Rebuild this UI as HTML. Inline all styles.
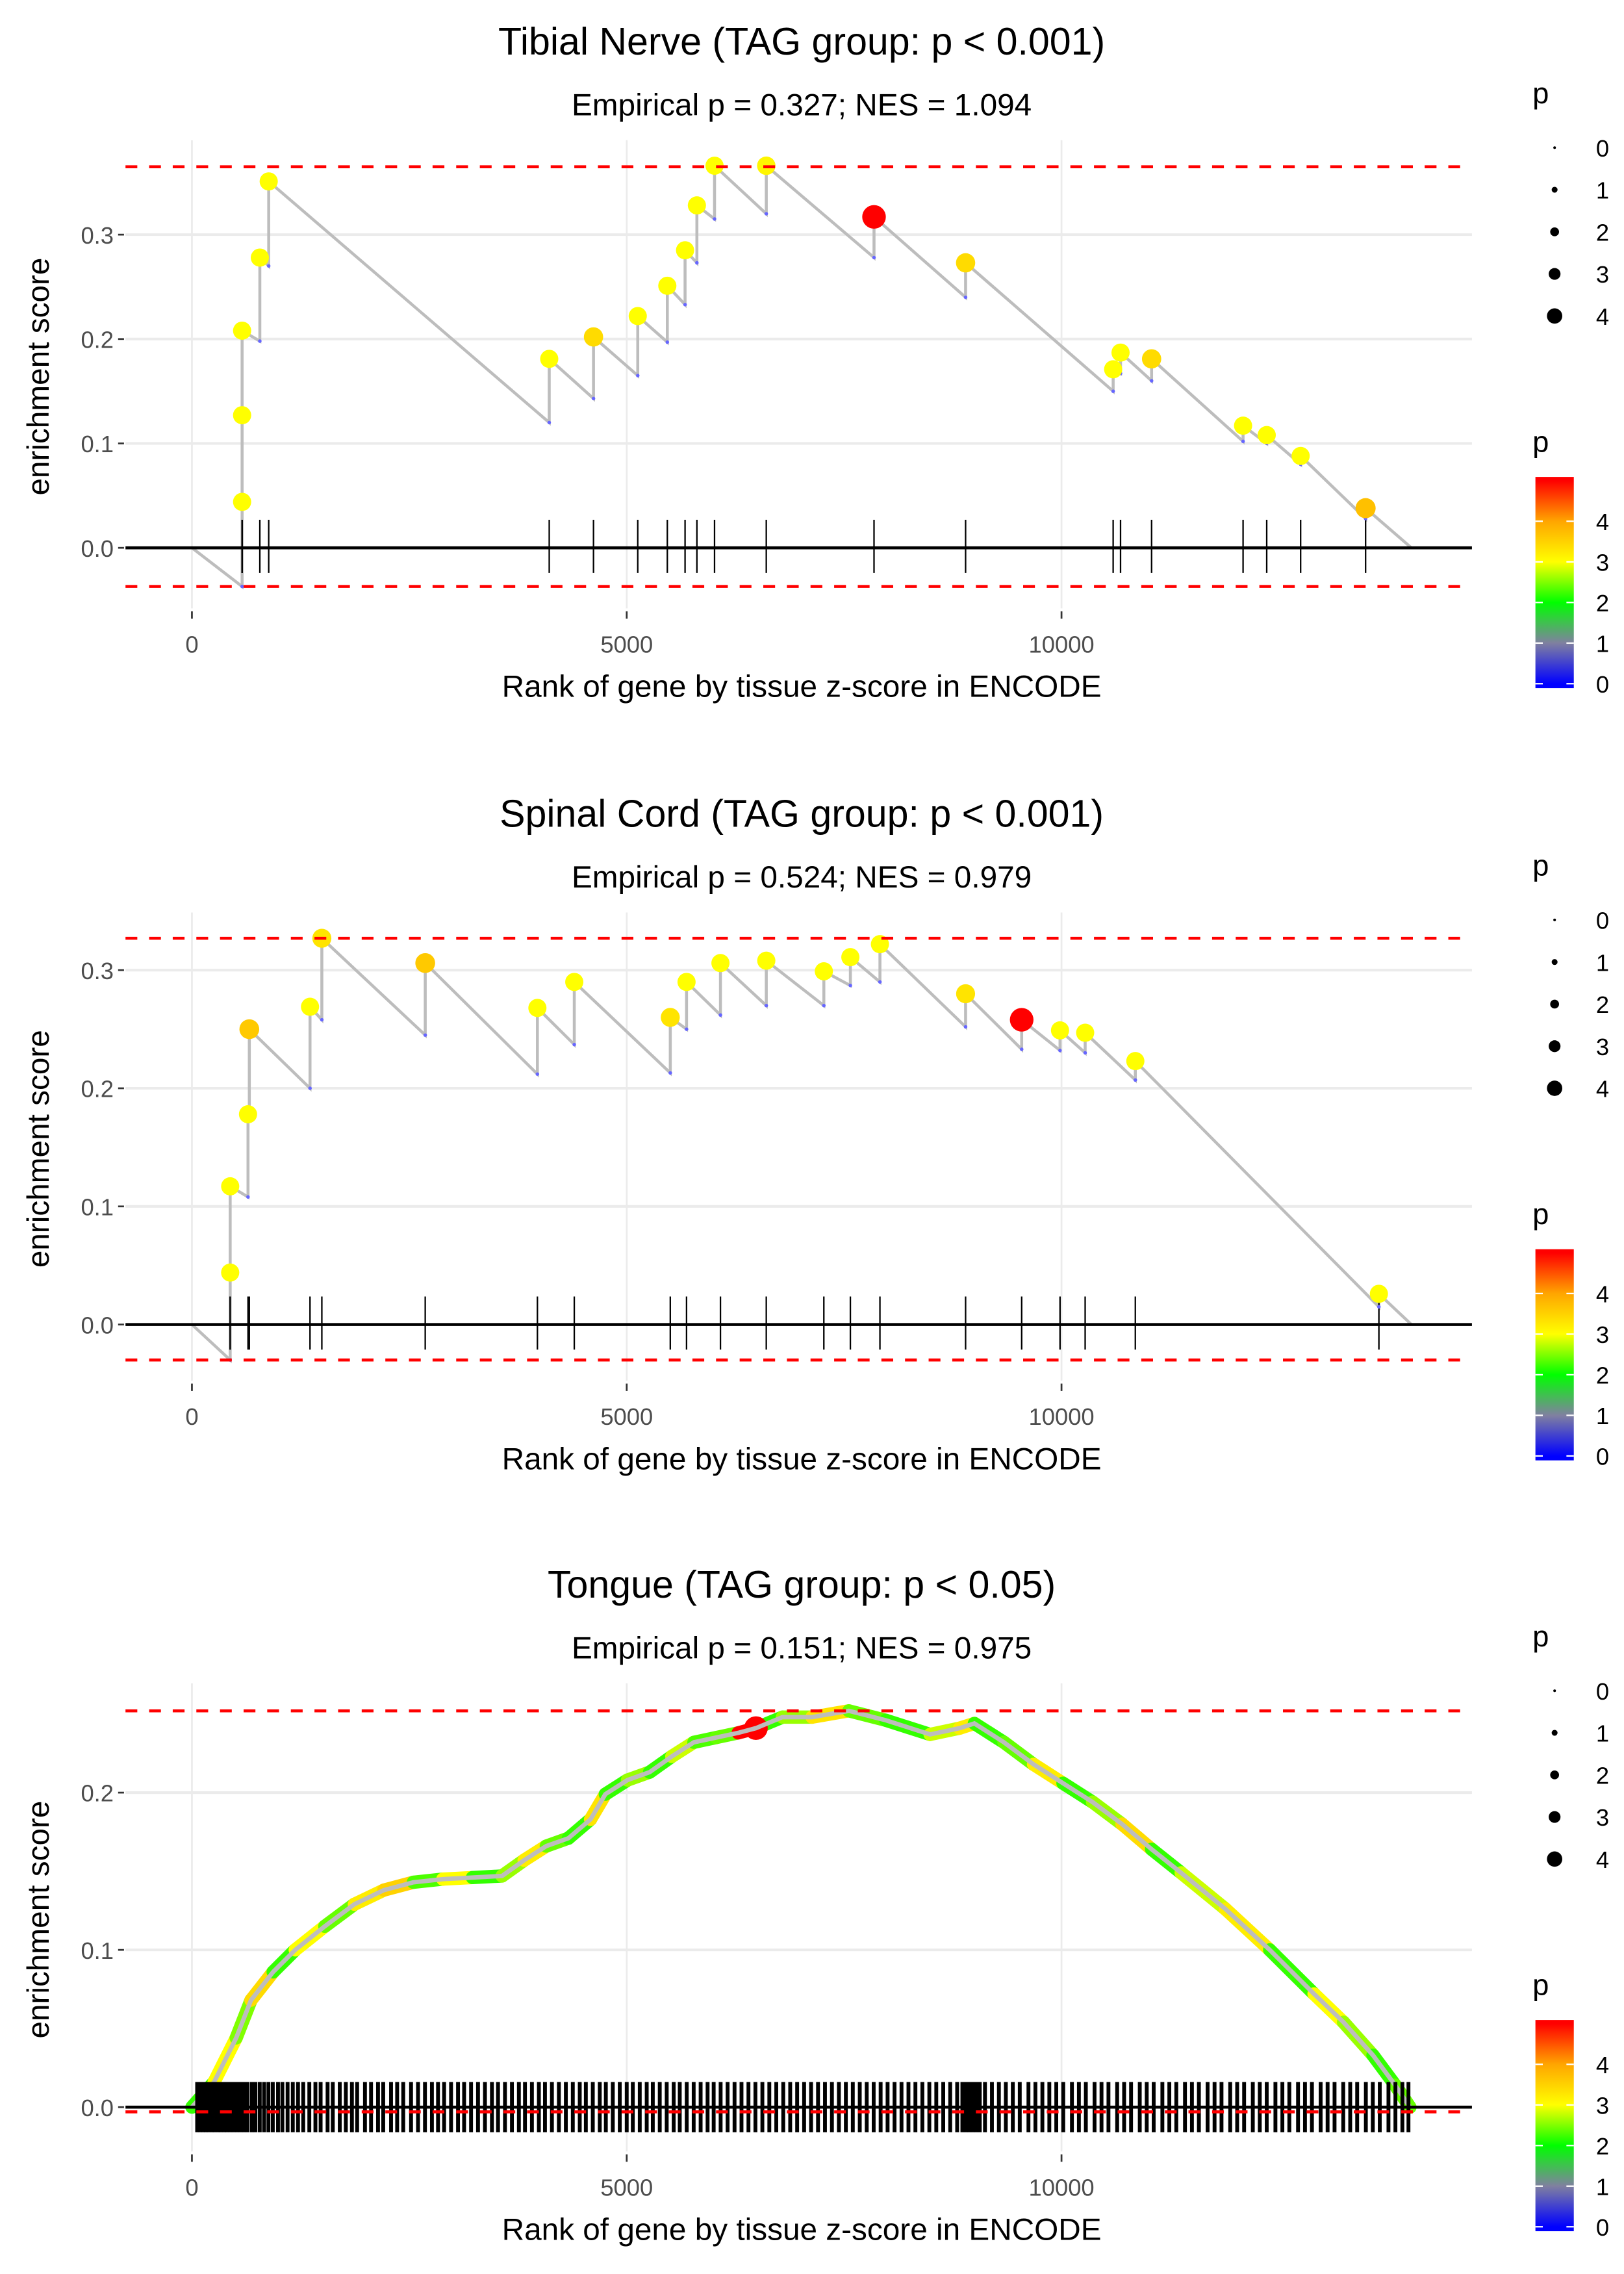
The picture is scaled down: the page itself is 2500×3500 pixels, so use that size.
<!DOCTYPE html>
<html><head><meta charset="utf-8"><style>
html,body{margin:0;padding:0;background:#fff;}
svg{display:block;font-family:"Liberation Sans",sans-serif;}
</style></head><body>
<svg id="chart" width="2500" height="3500" viewBox="0 0 1100 1540" xmlns="http://www.w3.org/2000/svg">
<rect x="0" y="0" width="1100" height="1540" fill="#fff"/>
</svg>
<script>
// ---- Panel 1: Tibial Nerve ----
const p1HitRanks = [577,577,577,781,883,4109,4618,5127,5467,5671,5807,6010,6605,7844,8897,10594,10679,11036,12088,12360,12750,13497];
const p1EsBefore = [-0.037,0.044,0.127,0.198,0.270,0.120,0.143,0.165,0.197,0.233,0.273,0.315,0.320,0.278,0.240,0.150,0.167,0.160,0.102,0.100,0.080,0.028];
const p1EsAfter  = [0.044,0.127,0.208,0.278,0.351,0.181,0.202,0.222,0.251,0.285,0.328,0.366,0.366,0.317,0.273,0.171,0.187,0.181,0.117,0.108,0.088,0.038];
const p1Pvals    = [3.0,3.0,3.0,3.0,3.0,3.0,3.4,3.0,3.0,3.0,3.0,3.0,3.1,5.0,3.4,3.0,3.0,3.4,3.0,3.0,3.0,3.7];
const p1Bounds = [0.365,-0.037];
// ---- Panel 2: Spinal Cord ----
const p2HitRanks = [440,440,645,660,1358,1494,2683,3973,4397,5501,5688,6078,6605,7267,7572,7912,8897,9542,9983,10272,10849,13650];
const p2EsBefore = [-0.030,0.044,0.108,0.178,0.200,0.258,0.245,0.212,0.237,0.213,0.250,0.262,0.270,0.270,0.287,0.290,0.252,0.233,0.232,0.230,0.207,0.015];
const p2EsAfter  = [0.044,0.117,0.178,0.250,0.269,0.327,0.306,0.268,0.290,0.260,0.290,0.306,0.308,0.299,0.311,0.322,0.280,0.258,0.249,0.247,0.223,0.026];
const p2Pvals    = [3.0,3.0,3.0,3.6,3.0,3.3,3.6,3.0,3.0,3.3,3.0,3.0,3.0,3.0,3.0,3.0,3.3,5.0,3.0,3.0,3.0,3.0];
const p2Bounds = [0.327,-0.030];
// ---- Panel 3: Tongue ----
const p3CurveRanks = [0,255,509,679,934,1188,1528,1868,2207,2547,2886,3226,3566,3820,4075,4329,4584,4754,5009,5263,5518,5773,6027,6282,6486,6791,7131,7555,7980,8489,8829,8998,9338,9678,10017,10357,10696,11036,11376,11885,12394,12904,13243,13582,13837,14007];
const p3CurveEs    = [0,0.016,0.044,0.068,0.086,0.100,0.115,0.129,0.138,0.143,0.145,0.146,0.147,0.157,0.166,0.171,0.183,0.199,0.208,0.213,0.223,0.232,0.235,0.238,0.241,0.248,0.248,0.252,0.246,0.237,0.241,0.244,0.232,0.218,0.206,0.194,0.180,0.164,0.149,0.126,0.100,0.072,0.054,0.033,0.014,0];
const p3CurvePvals = [2,2.2,3,2.5,3.4,2.2,3,2.4,3.2,3.5,2.3,3,2.2,2.6,3.2,2.4,2.2,3.3,2.2,2.6,2.2,2.8,2.3,2.4,5.0,2.2,2.6,3.3,2.4,2.2,2.8,3.2,2.2,2.4,3.2,2.2,2.6,3.4,2.2,2.8,3.2,2.2,3.0,2.6,2.2,2.4];
const p3HitRanks = [60,95,130,160,190,230,260,300,330,370,400,440,480,520,560,600,640,690,730,780,830,880,930,990,1040,1100,1160,1220,1280,1350,1420,1480,1560,1620,1700,1770,1840,1900,1990,2060,2140,2200,2290,2360,2430,2520,2600,2680,2760,2830,2900,2980,3060,3130,3210,3290,3370,3450,3520,3600,3680,3760,3830,3910,3990,4060,4140,4220,4300,4380,4460,4530,4610,4690,4760,4840,4920,5000,5070,5150,5230,5300,5380,5460,5540,5610,5690,5770,5850,5930,6000,6080,6160,6240,6320,6400,6480,6560,6640,6720,6800,6880,6960,7040,7120,7200,7280,7360,7440,7520,7600,7680,7760,7840,7920,8000,8080,8160,8240,8320,8400,8480,8560,8640,8720,8800,8860,8900,8940,8980,9020,9060,9120,9200,9280,9360,9440,9520,9620,9700,9780,9860,9940,10020,10120,10200,10280,10380,10460,10540,10640,10720,10800,10900,10980,11060,11160,11240,11320,11420,11500,11580,11680,11760,11840,11940,12020,12100,12200,12280,12360,12460,12540,12620,12720,12800,12880,12980,13060,13140,13240,13320,13400,13500,13580,13660,13760,13840,13920,13990];
const p3Bounds = [0.252,-0.003];

const titles = ["Tibial Nerve (TAG group: p < 0.001)","Spinal Cord (TAG group: p < 0.001)","Tongue (TAG group: p < 0.05)"];
const subtitles = ["Empirical p = 0.327; NES = 1.094","Empirical p = 0.524; NES = 0.979","Empirical p = 0.151; NES = 0.975"];
const yTicks = [[0,0.1,0.2,0.3],[0,0.1,0.2,0.3],[0,0.1,0.2]];
const xTicks = [0,5000,10000];
const sizeLegendVals = [0,1,2,3,4];
const colorLegendVals = [0,1,2,3,4];

const NS="http://www.w3.org/2000/svg";
const svg=document.getElementById('chart');
function mk(tag,attrs,parent){const e=document.createElementNS(NS,tag);for(const k in attrs)e.setAttribute(k,attrs[k]);(parent||svg).appendChild(e);return e;}
function pColor(p){
  const st=[[0,[0,0,255]],[1,[128,128,160]],[2,[0,255,0]],[3,[255,255,0]],[4,[255,165,0]],[5,[255,0,0]]];
  p=Math.max(0,Math.min(5,p));
  for(let i=0;i<st.length-1;i++){if(p<=st[i+1][0]){const t=(p-st[i][0]);const a=st[i][1],b=st[i+1][1];return 'rgb('+a.map((v,j)=>Math.round(v+(b[j]-v)*t)).join(',')+')';}}
  return 'rgb(255,0,0)';
}
function pRadius(p){return 3.4+p*0.92;}

const offsets=[0,523,1045];
const yZero=[371,897,1427];
const yUnit=[707,800,1065];
const X0=130, XPX=294.5/5000;
function xs(r){return X0+r*XPX;}

for(let pi=0;pi<3;pi++){
  const off=offsets[pi];
  const ys=v=>yZero[pi]-v*yUnit[pi];
  const g=mk('g',{});
  
  
  const top=95+off, bot=412+off;
  xTicks.forEach(t=>{const l=mk('line',{x1:xs(t),x2:xs(t),y1:top,y2:bot,stroke:'#ebebeb','stroke-width':1.2},g);
    });
  yTicks[pi].forEach(t=>{if(t===0)return;const l=mk('line',{x1:85,x2:997,y1:ys(t),y2:ys(t),stroke:'#ebebeb','stroke-width':1.8},g);
    });
  let t=mk('text',{x:543,y:37+off,'text-anchor':'middle','font-size':26,fill:'#000'},g);t.textContent=titles[pi];
  
  t=mk('text',{x:543,y:78+off,'text-anchor':'middle','font-size':21,fill:'#000'},g);t.textContent=subtitles[pi];
  
  yTicks[pi].forEach(v=>{
    const tl=mk('text',{x:77,y:ys(v)+6,'text-anchor':'end','font-size':16,fill:'#4d4d4d'},g);tl.textContent=v.toFixed(1);
    
    mk('line',{x1:80,x2:84,y1:ys(v),y2:ys(v),stroke:'#333','stroke-width':1.2},g);
  });
  xTicks.forEach(v=>{
    mk('line',{x1:xs(v),x2:xs(v),y1:414+off,y2:419+off,stroke:'#333','stroke-width':1.2},g);
    const tl=mk('text',{x:xs(v),y:442+off,'text-anchor':'middle','font-size':16,fill:'#4d4d4d'},g);tl.textContent=String(v);
    
  });
  t=mk('text',{x:543,y:472+off,'text-anchor':'middle','font-size':21,fill:'#000'},g);t.textContent='Rank of gene by tissue z-score in ENCODE';
  
  const yc=255+off;
  t=mk('text',{x:0,y:0,'text-anchor':'middle','font-size':21,fill:'#000',transform:'translate(33,'+yc+') rotate(-90)'},g);t.textContent='enrichment score';
  

  const bounds=[p1Bounds,p2Bounds,p3Bounds][pi];
  if(pi<2){
    const ranks=pi===0?p1HitRanks:p2HitRanks, eb=pi===0?p1EsBefore:p2EsBefore, ea=pi===0?p1EsAfter:p2EsAfter, pv=pi===0?p1Pvals:p2Pvals;
    const endRank=14024;
    let d='M'+xs(0)+','+ys(0);
    ranks.forEach((r,i)=>{d+=' L'+xs(r)+','+ys(eb[i])+' L'+xs(r)+','+ys(ea[i]);});
    d+=' L'+xs(endRank)+','+ys(0);
    const pth=mk('path',{d:d,fill:'none',stroke:'#bdbdbd','stroke-width':2},g);
    
    ranks.forEach(r=>{const l=mk('line',{x1:xs(r),x2:xs(r),y1:ys(0)-19,y2:ys(0)+17,stroke:'#000','stroke-width':1},g);
      });
    mk('line',{x1:85,x2:997,y1:ys(0),y2:ys(0),stroke:'#000','stroke-width':2},g);
    ranks.forEach((r,i)=>{mk('circle',{cx:xs(r),cy:ys(eb[i]),r:1.2,fill:'#6666ff'},g);});
    ranks.forEach((r,i)=>{const c=mk('circle',{cx:xs(r),cy:ys(ea[i]),r:pRadius(pv[i]),fill:pColor(pv[i])},g);
      });
  } else {
    for(let i=1;i<p3CurveRanks.length;i++){
      const s=mk('line',{x1:xs(p3CurveRanks[i-1]),y1:ys(p3CurveEs[i-1]),x2:xs(p3CurveRanks[i]),y2:ys(p3CurveEs[i]),stroke:pColor(p3CurvePvals[i]),'stroke-width':9,'stroke-linecap':'round'},g);
      
    }
    p3CurveRanks.forEach((r,i)=>{if(p3CurvePvals[i]>=4.5){const c=mk('circle',{cx:xs(r),cy:ys(p3CurveEs[i]),r:pRadius(p3CurvePvals[i]),fill:pColor(p3CurvePvals[i])},g);
      }});
    let d='';p3CurveRanks.forEach((r,i)=>{d+=(i?' L':'M')+xs(r)+','+ys(p3CurveEs[i]);});
    const pth=mk('path',{d:d,fill:'none',stroke:'#bdbdbd','stroke-width':3},g);
    
    p3HitRanks.forEach(r=>{const l=mk('line',{x1:xs(r),x2:xs(r),y1:ys(0)-17,y2:ys(0)+17,stroke:'#000','stroke-width':2.6},g);
      });
    mk('line',{x1:85,x2:997,y1:ys(0),y2:ys(0),stroke:'#000','stroke-width':2},g);
  }
  bounds.forEach(b=>{const l=mk('line',{x1:85,x2:997,y1:ys(b),y2:ys(b),stroke:'#ff0000','stroke-width':2,'stroke-dasharray':'8,8'},g);
    });

  t=mk('text',{x:1038,y:70+off,'font-size':20,fill:'#000'},g);t.textContent='p';
  
  sizeLegendVals.forEach((v,i)=>{
    const cy=100+i*28.5+off;
    const c=mk('circle',{cx:1053,cy:cy,r:[0.9,2,3,4,5.2][i],fill:'#000'},g);
    
    const tl=mk('text',{x:1081,y:cy+6,'font-size':16,fill:'#000'},g);tl.textContent=String(v);
  });
  t=mk('text',{x:1038,y:306+off,'font-size':20,fill:'#000'},g);t.textContent='p';
  
  const barTop=323+off, barBot=466+off, unit=27.5, base=463+off;
  const gid='cg'+pi;
  const defs=mk('defs',{},g);
  const lg=mk('linearGradient',{id:gid,x1:0,y1:1,x2:0,y2:0},defs);
  [0,1,2,3,4,5].forEach(v=>{const yy=base-v*unit;const off2=(barBot-yy)/(barBot-barTop);
    mk('stop',{offset:Math.max(0,Math.min(1,off2)),'stop-color':pColor(v)},lg);});
  const cb=mk('rect',{x:1040,y:barTop,width:26,height:barBot-barTop,fill:'url(#'+gid+')'},g);
  
  colorLegendVals.forEach(v=>{const yy=base-v*unit;
    mk('line',{x1:1040,x2:1045,y1:yy,y2:yy,stroke:'#fff','stroke-width':1},g);
    mk('line',{x1:1061,x2:1066,y1:yy,y2:yy,stroke:'#fff','stroke-width':1},g);
    const tl=mk('text',{x:1081,y:yy+6,'font-size':16,fill:'#000'},g);tl.textContent=String(v);});
}
</script>
</body></html>
